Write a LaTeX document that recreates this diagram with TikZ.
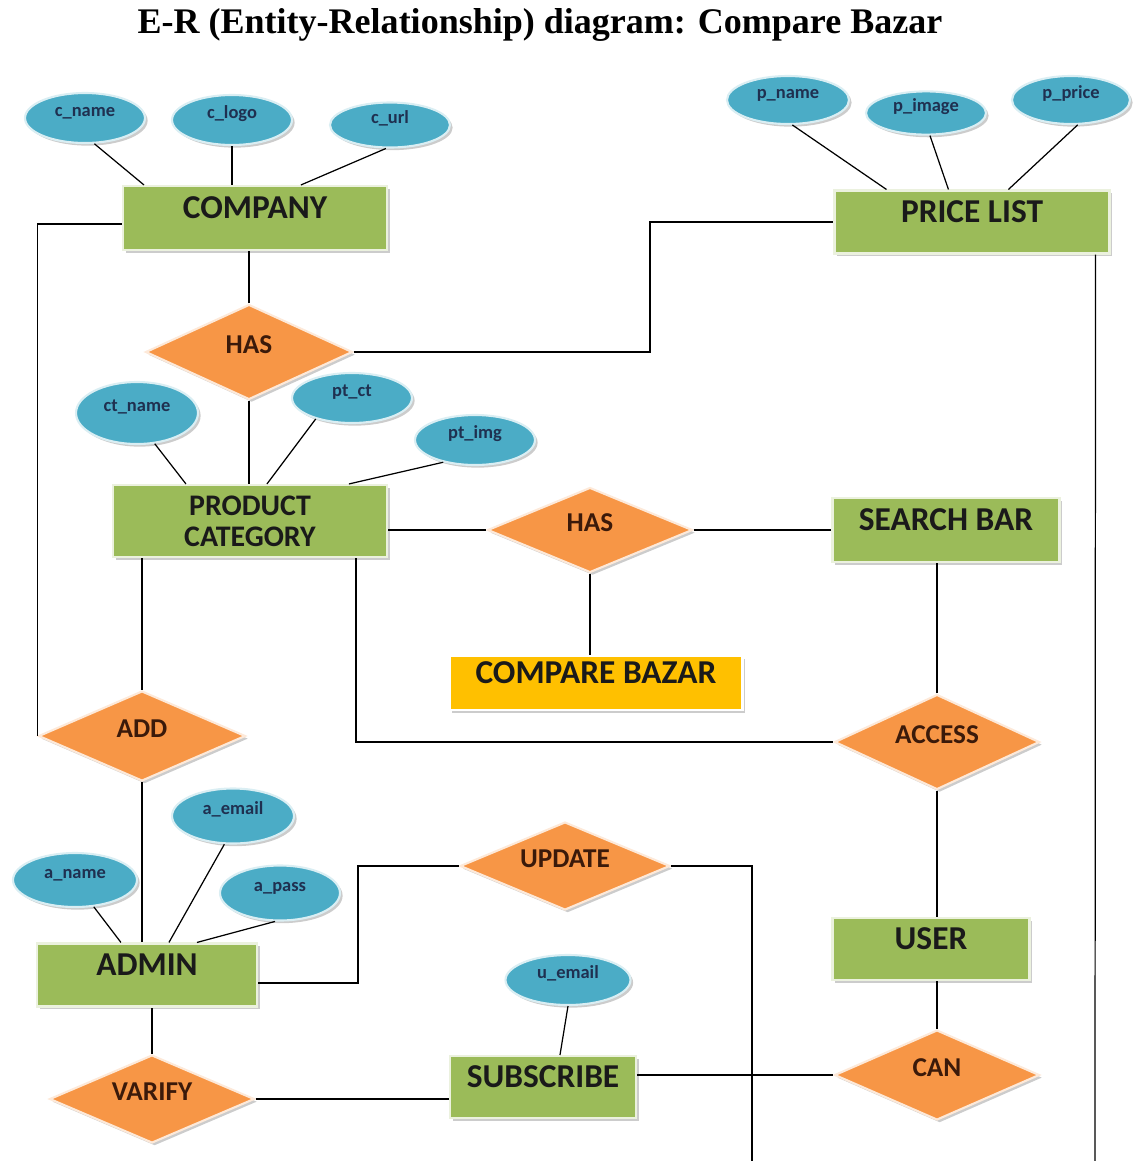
\documentclass[tikz,border=0pt]{standalone}
\usepackage{fontspec}
\setmainfont{Carlito}
\newfontfamily\titlefont{Liberation Serif}
\usetikzlibrary{shapes.geometric,shadows}

\definecolor{entgreen}{HTML}{9BBB59}
\definecolor{relorange}{HTML}{F79646}
\definecolor{attblue}{HTML}{4BACC6}
\definecolor{mainyellow}{HTML}{FFC000}
\definecolor{entedge}{HTML}{EBF1DE}
\definecolor{reledge}{HTML}{FDE9D9}
\definecolor{attedge}{HTML}{DAEEF3}
\definecolor{enttext}{HTML}{1A1A1A}
\definecolor{reltext}{HTML}{3B1A0A}
\definecolor{atttext}{HTML}{1F3050}

\begin{document}
\begin{tikzpicture}[x=0.02cm,y=-0.02cm,
        softshadow/.style={drop shadow={shadow xshift=1.5pt,shadow yshift=-1.5pt,fill=black!40}},
        entbox/.style={shape=rectangle,fill=entgreen,draw=entedge,line width=1.2pt,inner sep=0,text=enttext,softshadow},
        entity/.style={entbox,font=\fontsize{19}{21}\selectfont\bfseries,text height=13pt,text depth=12pt},
        relation/.style={shape=diamond,shape aspect=2.2,fill=relorange,draw=reledge,line width=1.2pt,inner sep=0,
            font=\fontsize{15.5}{17}\selectfont\bfseries,text=reltext,text height=11pt,text depth=9pt,softshadow},
        attribute/.style={shape=ellipse,fill=attblue,draw=attedge,line width=1.2pt,inner sep=0,
            font=\fontsize{10.5}{11}\selectfont\bfseries,text=atttext,text height=8pt,text depth=9.4pt,softshadow},
        link/.style={draw=black,line width=0.7pt},
        ]
\useasboundingbox (0,0) rectangle (1133,1161);

\node[font=\titlefont\fontsize{20.5}{24}\selectfont\bfseries] (title) at (540,25) {E-R (Entity-Relationship) diagram: Compare Bazar};

\node[entity,minimum width=5.28cm,minimum height=1.28cm] (company) at (255,218) {COMPANY};
\node[entity,minimum width=5.5cm,minimum height=1.26cm] (pricelist) at (972,222) {PRICE LIST};
\node[entbox,align=center,font=\fontsize{17}{17.5}\selectfont\bfseries,minimum width=5.48cm,minimum height=1.44cm] (prodcat) at (250,521) {PRODUCT\\CATEGORY};
\node[entity,minimum width=4.54cm,minimum height=1.28cm] (searchbar) at (946,530) {SEARCH BAR};
\node[entity,fill=mainyellow,draw=white,minimum width=5.86cm,minimum height=1.08cm] (comparebazar) at (596,683) {COMPARE BAZAR};
\node[entity,minimum width=3.94cm,minimum height=1.24cm] (user) at (931,949) {USER};
\node[entity,minimum width=4.4cm,minimum height=1.26cm] (admin) at (147,975) {ADMIN};
\node[entity,minimum width=3.72cm,minimum height=1.24cm] (subscribe) at (543,1087) {SUBSCRIBE};

\node[relation,minimum width=4.14cm,minimum height=1.9cm] (has1) at (249,352) {HAS};
\node[relation,minimum width=4.1cm,minimum height=1.7cm] (has2) at (590,530) {HAS};
\node[relation,minimum width=4.14cm,minimum height=1.8cm] (add) at (142,736) {ADD};
\node[relation,minimum width=4.1cm,minimum height=1.9cm] (access) at (937,742) {ACCESS};
\node[relation,minimum width=4.2cm,minimum height=1.76cm] (update) at (565,866) {UPDATE};
\node[relation,minimum width=4.1cm,minimum height=1.8cm] (can) at (937,1075) {CAN};
\node[relation,minimum width=4.1cm,minimum height=1.76cm] (varify) at (152,1099) {VARIFY};

\node[attribute,minimum width=2.4cm,minimum height=1cm] (c_name) at (85,118) {c\_name};
\node[attribute,minimum width=2.4cm,minimum height=1cm] (c_logo) at (232,120) {c\_logo};
\node[attribute,minimum width=2.4cm,minimum height=0.9cm] (c_url) at (390,125) {c\_url};
\node[attribute,minimum width=2.44cm,minimum height=0.96cm] (p_name) at (788,100) {p\_name};
\node[attribute,minimum width=2.4cm,minimum height=0.84cm] (p_image) at (926,113) {p\_image};
\node[attribute,minimum width=2.36cm,minimum height=0.96cm] (p_price) at (1071,100) {p\_price};
\node[attribute,minimum width=2.44cm,minimum height=1.24cm] (ct_name) at (137,413) {ct\_name};
\node[attribute,minimum width=2.4cm,minimum height=1cm] (pt_ct) at (352,398) {pt\_ct};
\node[attribute,minimum width=2.4cm,minimum height=1cm] (pt_img) at (475,440) {pt\_img};
\node[attribute,minimum width=2.44cm,minimum height=1.1cm] (a_email) at (233,816) {a\_email};
\node[attribute,minimum width=2.48cm,minimum height=1.08cm] (a_name) at (75,880) {a\_name};
\node[attribute,minimum width=2.4cm,minimum height=1.1cm] (a_pass) at (280,893) {a\_pass};
\node[attribute,minimum width=2.5cm,minimum height=1cm] (u_email) at (568,980) {u\_email};

\coordinate (bend1) at (650,290);
\coordinate (bend2) at (358,920);
\coordinate (out1) at (752,1161);
\coordinate (out2) at (1095,1161);

\path[link] (c_name.-70) edge ([xshift=0.44cm]company.north west);
\path[link] (c_logo.south) edge (c_logo.south |- company.north);
\path[link] (c_url.-100) edge ([xshift=3.58cm]company.north west);
\path[link] (p_name.-80) edge ([xshift=1.06cm]pricelist.north west);
\path[link] (p_image.-80) edge ([xshift=2.3cm]pricelist.north west);
\path[link] (p_price.-75) edge ([xshift=3.5cm]pricelist.north west);

\path[link] (has1.north) edge (has1.north |- company.south);
\path[link] ([yshift=-0.12cm]company.west) -| (add.west);
\path[link] (has1.east) -| (bend1) |- (pricelist.west);
\path[link] (has1.south) edge (has1.south |- prodcat.north);

\path[link] (ct_name.-60) edge ([xshift=1.48cm]prodcat.north west);
\path[link] (pt_ct.210) edge ([xshift=3.1cm]prodcat.north west);
\path[link] (pt_img.215) edge ([xshift=4.74cm]prodcat.north west);

\path[link] (prodcat.east |- has2.west) edge (has2.west);
\path[link] (has2.east) edge (searchbar.west);
\path[link] (has2.south) edge (has2.south |- comparebazar.north);
\path[link] (add.north) edge (add.north |- prodcat.south);
\path[link] ([xshift=-0.64cm]prodcat.south east) |- (access.west);
\path[link] (access.north) edge (access.north |- searchbar.south);
\path[link] (access.south) edge (access.south |- user.north);

\path[link] (add.south) edge (add.south |- admin.north);
\path[link] (a_name.-55) edge ([xshift=1.7cm]admin.north west);
\path[link] (a_email.-107) edge ([xshift=2.66cm]admin.north west);
\path[link] (a_pass.-100) edge ([xshift=3.22cm]admin.north west);
\path[link] ([yshift=-0.16cm]admin.east) -| (bend2) |- (update.west);
\path[link] (update.east) -| (out1);

\path[link] (u_email.south) edge ([xshift=0.34cm]subscribe.north);
\path[link] (can.north) edge (can.north |- user.south);
\path[link] (subscribe.east |- can.west) edge (can.west);
\path[link] (varify.east) edge (varify.east -| subscribe.west);
\path[link] (varify.north) edge (varify.north |- admin.south);
\path[link] ([xshift=-0.3cm]pricelist.south east) edge (out2);

\end{tikzpicture}
\end{document}
